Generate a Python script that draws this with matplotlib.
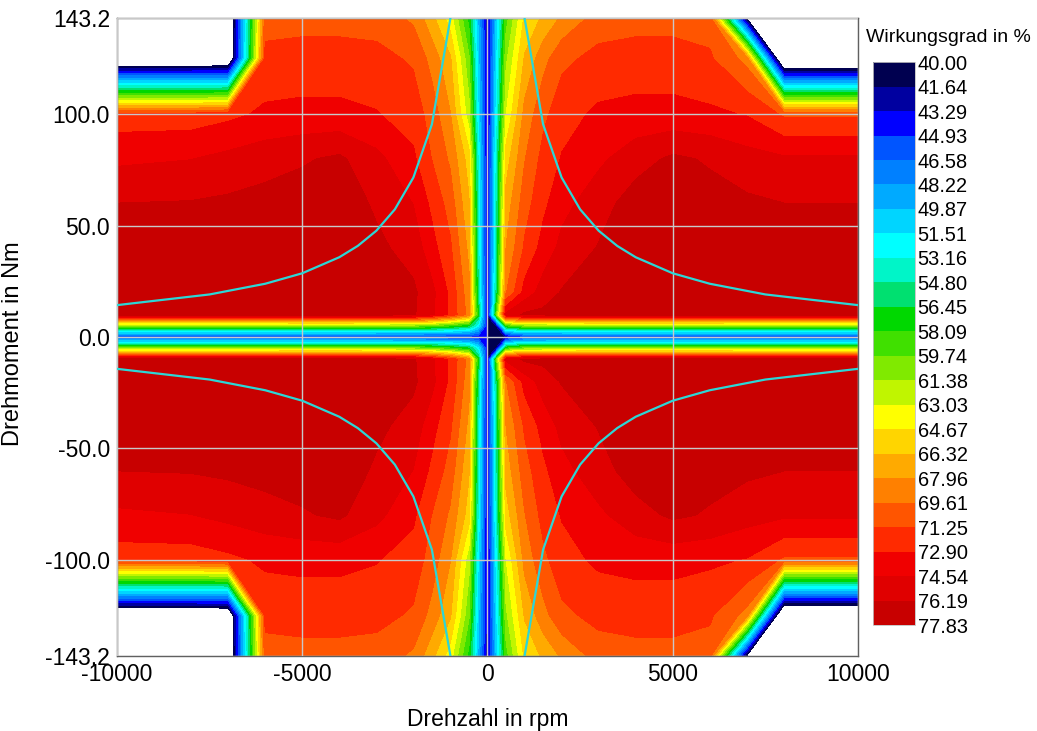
import numpy as np
import matplotlib
matplotlib.use("Agg")
import matplotlib.pyplot as plt

# colour bands of the efficiency map (boundaries and fill colours)
LEVELS = [40.00, 41.64, 43.29, 44.93, 46.58, 48.22, 49.87, 51.51, 53.16, 54.80,
          56.45, 58.09, 59.74, 61.38, 63.03, 64.67, 66.32, 67.96, 69.61, 71.25,
          72.90, 74.54, 76.19, 77.83]
BAND_COLORS = ["#000050", "#0000a0", "#0000ff", "#0055ff", "#0080ff", "#00aaff",
               "#00d5ff", "#00ffff", "#00f5c8", "#00e070", "#00d800", "#40e000",
               "#80ea00", "#c0f500", "#ffff00", "#ffd500", "#ffaa00", "#ff8000",
               "#ff5500", "#ff2a00", "#f00000", "#e00000", "#c80000"]

# measured grid (positive torque half, map is mirror symmetric in torque)
TORQUE = [0, 5, 10, 20, 40, 60, 80, 100, 125, 143.2]
SPEED_NEG = [-10000, -8000, -7000, -6000, -5000, -4000, -3000, -2000, -1500, -1000, -500, -250, 0]
SPEED_POS = [0, 250, 500, 1000, 1500, 2000, 3000, 4000, 5000, 6000, 7000, 8000, 10000]

EFF_NEG = [
    [44.0, 44.0, 44.0, 44.0, 44.0, 44.0, 44.0, 44.0, 44.0, 44.0, 44.0, 44.0, 44.0],
    [60.4, 60.4, 60.4, 60.4, 60.5, 60.5, 60.4, 60.2, 59.4, 58.2, 56.5, 52.0, 43.0],
    [76.8, 76.8, 76.8, 76.8, 77.0, 77.0, 76.8, 76.4, 74.8, 72.5, 69.0, 57.0, 42.0],
    [77.0, 77.0, 77.0, 77.2, 77.3, 77.5, 77.2, 76.5, 75.0, 72.5, 68.5, 55.0, 42.0],
    [77.0, 77.0, 77.0, 77.2, 77.3, 77.5, 76.6, 75.5, 73.5, 71.5, 67.5, 54.0, 42.0],
    [76.2, 76.3, 76.5, 76.8, 77.0, 77.3, 75.9, 74.5, 72.5, 70.5, 66.5, 53.5, 42.0],
    [74.2, 74.5, 75.0, 75.5, 76.0, 76.5, 75.0, 73.2, 71.2, 69.3, 65.5, 53.0, 42.0],
    [72.0, 72.0, 72.5, 73.2, 73.3, 73.3, 73.0, 72.2, 70.5, 68.0, 62.0, 51.5, 42.0],
    [35.0, 35.0, 35.0, 71.8, 72.0, 72.0, 71.8, 71.0, 69.0, 66.5, 60.0, 50.5, 42.0],
    [35.0, 35.0, 35.0, 70.5, 70.6, 70.6, 70.5, 69.3, 66.8, 63.8, 57.5, 49.5, 42.0],
]
EFF_POS = [
    [40.05, 40.9, 41.75, 44.0, 44.0, 44.0, 44.0, 44.0, 44.0, 44.0, 44.0, 44.0, 44.0],
    [40.9, 41.7, 58.0, 60.2, 60.3, 60.4, 60.5, 60.5, 60.5, 60.5, 60.4, 60.4, 60.4],
    [41.73, 60.0, 75.0, 76.5, 76.6, 76.8, 77.0, 77.0, 77.0, 77.0, 76.8, 76.8, 76.8],
    [42.0, 56.0, 69.5, 73.5, 75.3, 76.3, 77.0, 77.5, 77.5, 77.3, 77.2, 77.0, 77.0],
    [42.0, 55.0, 68.0, 71.5, 73.5, 75.0, 76.3, 77.3, 77.5, 77.2, 77.0, 77.0, 77.0],
    [42.0, 54.5, 67.0, 70.5, 72.5, 74.0, 75.5, 77.0, 77.2, 76.8, 76.5, 76.2, 76.2],
    [42.0, 54.0, 65.5, 69.5, 71.8, 73.0, 74.2, 75.5, 76.5, 76.0, 75.2, 74.8, 74.8],
    [42.0, 52.5, 63.0, 68.5, 70.8, 72.3, 73.2, 73.4, 73.4, 73.2, 72.8, 71.0, 71.0],
    [42.0, 51.5, 61.0, 66.5, 69.0, 70.8, 71.8, 72.0, 72.0, 71.5, 69.0, 33.0, 33.0],
    [42.0, 50.5, 59.0, 65.0, 66.6, 68.2, 70.3, 70.6, 70.6, 70.5, 39.5, 20.0, 20.0],
]

# constant power line (upper right branch, mirrored to the other quadrants)
CURVE_SPEED = [1000, 1500, 2000, 2500, 3000, 3500, 4000, 5000, 6000, 7500, 10000]
CURVE_TORQUE = [143.2, 95.5, 71.6, 57.3, 47.7, 40.9, 35.8, 28.6, 23.9, 19.1, 14.3]

X_TICKS = [-10000, -5000, 0, 5000, 10000]
Y_TICKS = [-143.2, -100.0, -50.0, 0.0, 50.0, 100.0, 143.2]


def mirror(rows):
    rows = np.asarray(rows, dtype=float)
    return np.vstack([rows[:0:-1], rows])


def main():
    plt.rcParams["font.family"] = ["Liberation Sans", "DejaVu Sans"]
    fig = plt.figure(figsize=(10.37, 7.31), dpi=100)
    ax = fig.add_axes([0.1128, 0.1026, 0.7146, 0.8728])

    torque = np.concatenate([-np.array(TORQUE[:0:-1]), TORQUE])
    cs = None
    for speed, eff in ((SPEED_NEG, EFF_NEG), (SPEED_POS, EFF_POS)):
        cs = ax.contourf(speed, torque, mirror(eff), levels=LEVELS,
                         colors=BAND_COLORS, antialiased=False, zorder=1)

    cx = np.array(CURVE_SPEED)
    cy = np.array(CURVE_TORQUE)
    for sx in (-1, 1):
        for sy in (-1, 1):
            ax.plot(sx * cx, sy * cy, color="#2cd6d6", lw=1.6, zorder=4)

    ax.set_xlim(-10000, 10000)
    ax.set_ylim(-143.2, 143.2)
    ax.set_xticks(X_TICKS)
    ax.set_xticklabels([f"{v:d}" for v in X_TICKS])
    ax.set_yticks(Y_TICKS)
    ax.set_yticklabels([f"{v:.1f}" for v in Y_TICKS])
    ax.tick_params(length=0, labelsize=16.5, pad=5)
    ax.set_axisbelow(False)
    ax.grid(True, color="#c8c8c8", lw=1.0, zorder=3)
    for sp in ax.spines.values():
        sp.set_color("#606060")
        sp.set_linewidth(1.0)

    ax.set_xlabel("Drehzahl in rpm", fontsize=16.5, labelpad=16)
    ax.set_ylabel("Drehmoment in Nm", fontsize=17)
    ax.yaxis.set_label_coords(-0.125, 0.49)

    cax = fig.add_axes([0.8418, 0.145, 0.0405, 0.770])
    cb = fig.colorbar(cs, cax=cax, ticks=LEVELS)
    cax.invert_yaxis()
    cb.set_ticklabels([f"{v:.2f}" for v in LEVELS])
    cax.tick_params(length=0, labelsize=14.4, pad=2)
    cb.outline.set_edgecolor("#c0c0c0")
    cb.outline.set_linewidth(0.6)
    fig.text(0.835, 0.949, "Wirkungsgrad in %", fontsize=14, ha="left", va="center")

    fig.savefig("out.png", dpi=100)


if __name__ == "__main__":
    main()
